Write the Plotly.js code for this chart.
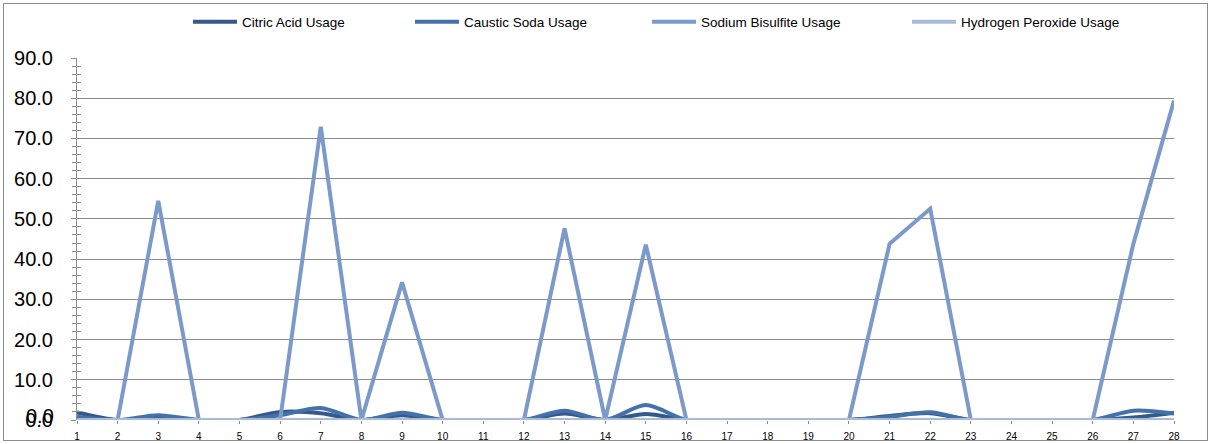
<!DOCTYPE html>
<html>
<head>
<meta charset="utf-8">
<script src="https://cdn.plot.ly/plotly-3.0.1.min.js"></script>
<style>
html,body{margin:0;padding:0;background:#fff;}
#chart{position:absolute;left:0;top:0;width:1212px;height:444px;}
#frame{position:absolute;left:3px;top:3px;width:1203px;height:436px;border:1.5px solid #8c8c8c;pointer-events:none;}
</style>
</head>
<body>
<div id="chart"></div>
<div id="frame"></div>
<script>
const days = [1,2,3,4,5,6,7,8,9,10,11,12,13,14,15,16,17,18,19,20,21,22,23,24,25,26,27,28];
const citricAcid =      [1.9,0,0.5,0,0,2.0,1.7,0,1.2,0,0,0,1.6,0,1.5,0,0,0,0,0,1.0,1.7,0,0,0,0,0.6,1.8];
const causticSoda =     [0.8,0,1.2,0,0,1.2,3.0,0,1.8,0,0,0,2.3,0,3.7,0,0,0,0,0,0.8,1.9,0,0,0,0,2.3,1.6];
const sodiumBisulfite = [0,0,54.5,0,0,0,72.9,0,34.2,0,0,0,47.6,0,43.6,0,0,0,0,0,43.8,52.5,0,0,0,0,43.8,79.4];
const hydrogenPeroxide =[0,0,0,0,0,0,0,0,0,0,0,0,0,0,0,0,0,0,0,0,0,0,0,0,0,0,0,0];
const yTicks = [0,10,20,30,40,50,60,70,80,90];

const legendFont = {family:'"Liberation Sans",Arial,sans-serif', size:13.5, color:'#000'};
const legendNames = ['legend','legend2','legend3','legend4'];
const legendX = [188, 410, 647, 907];

const traces = [
  {name:'Citric Acid Usage', x:days, y:citricAcid, color:'#35598a', shape:'spline'},
  {name:'Caustic Soda Usage', x:days, y:causticSoda, color:'#4571ab', shape:'spline'},
  {name:'Sodium Bisulfite Usage', x:days, y:sodiumBisulfite, color:'#7b99c9', shape:'linear'},
  {name:'Hydrogen Peroxide Usage', x:days, y:hydrogenPeroxide, color:'#a8bbd9', shape:'linear'}
].map((t,i) => ({
  type:'scatter', mode:'lines', name:t.name, x:t.x, y:t.y, legend:legendNames[i],
  line:{color:t.color, width:4, shape:t.shape, smoothing:0.8},
  cliponaxis:false
}));

traces.push({type:'scatter', mode:'lines', x:[1], y:[0], yaxis:'y2', showlegend:false, hoverinfo:'skip', line:{width:0}});

const layout = {
  width:1212, height:444,
  margin:{l:77, r:38, t:58, b:24},
  paper_bgcolor:'#fff', plot_bgcolor:'#fff',
  showlegend:true,
  xaxis:{
    type:'linear', range:[1,28], tickvals:days, ticktext:days.map(String),
    showgrid:false, zeroline:false, showline:false,
    ticks:'outside', ticklen:3, tickcolor:'#8c8c8c', tickwidth:1,
    ticklabelstandoff:4,
    tickfont:{family:'"Liberation Sans",Arial,sans-serif', size:10, color:'#000'}
  },
  yaxis:{
    range:[0,90], tickvals:yTicks, ticktext:yTicks.map(v=>v.toFixed(1)),
    showgrid:true, gridcolor:'#8c8c8c', gridwidth:1, zeroline:false,
    showline:true, linecolor:'#8c8c8c', linewidth:1,
    ticks:'outside', ticklen:5, tickcolor:'#8c8c8c', tickwidth:1,
    ticklabelstandoff:14,
    minor:{dtick:2, ticks:'outside', ticklen:4, tickcolor:'#8c8c8c', showgrid:false},
    tickfont:{family:'"Liberation Sans",Arial,sans-serif', size:20, color:'#000'}
  },
  yaxis2:{
    overlaying:'y', side:'left', range:[0,90], tickvals:yTicks, showticklabels:false,
    showgrid:false, zeroline:false, showline:false,
    ticks:'inside', ticklen:5, tickcolor:'#8c8c8c', tickwidth:1,
    minor:{dtick:2, ticks:'inside', ticklen:4, tickcolor:'#8c8c8c', showgrid:false}
  },
  annotations:[
    {xref:'paper', yref:'y', x:0, y:0, xanchor:'right', yanchor:'middle', xshift:-21, yshift:4,
     text:'0.0', showarrow:false, font:{family:'"Liberation Sans",Arial,sans-serif', size:20, color:'#000'}}
  ]
};
legendNames.forEach((ln,i) => {
  layout[ln] = {orientation:'h', xref:'container', yref:'container', x:legendX[i]/1212, xanchor:'left',
    y:1-22/444, yanchor:'middle', font:legendFont, itemwidth:44, bgcolor:'rgba(0,0,0,0)',
    borderwidth:0, tracegroupgap:0};
});

Plotly.newPlot('chart', traces, layout, {displayModeBar:false, staticPlot:true});
</script>
</body>
</html>
